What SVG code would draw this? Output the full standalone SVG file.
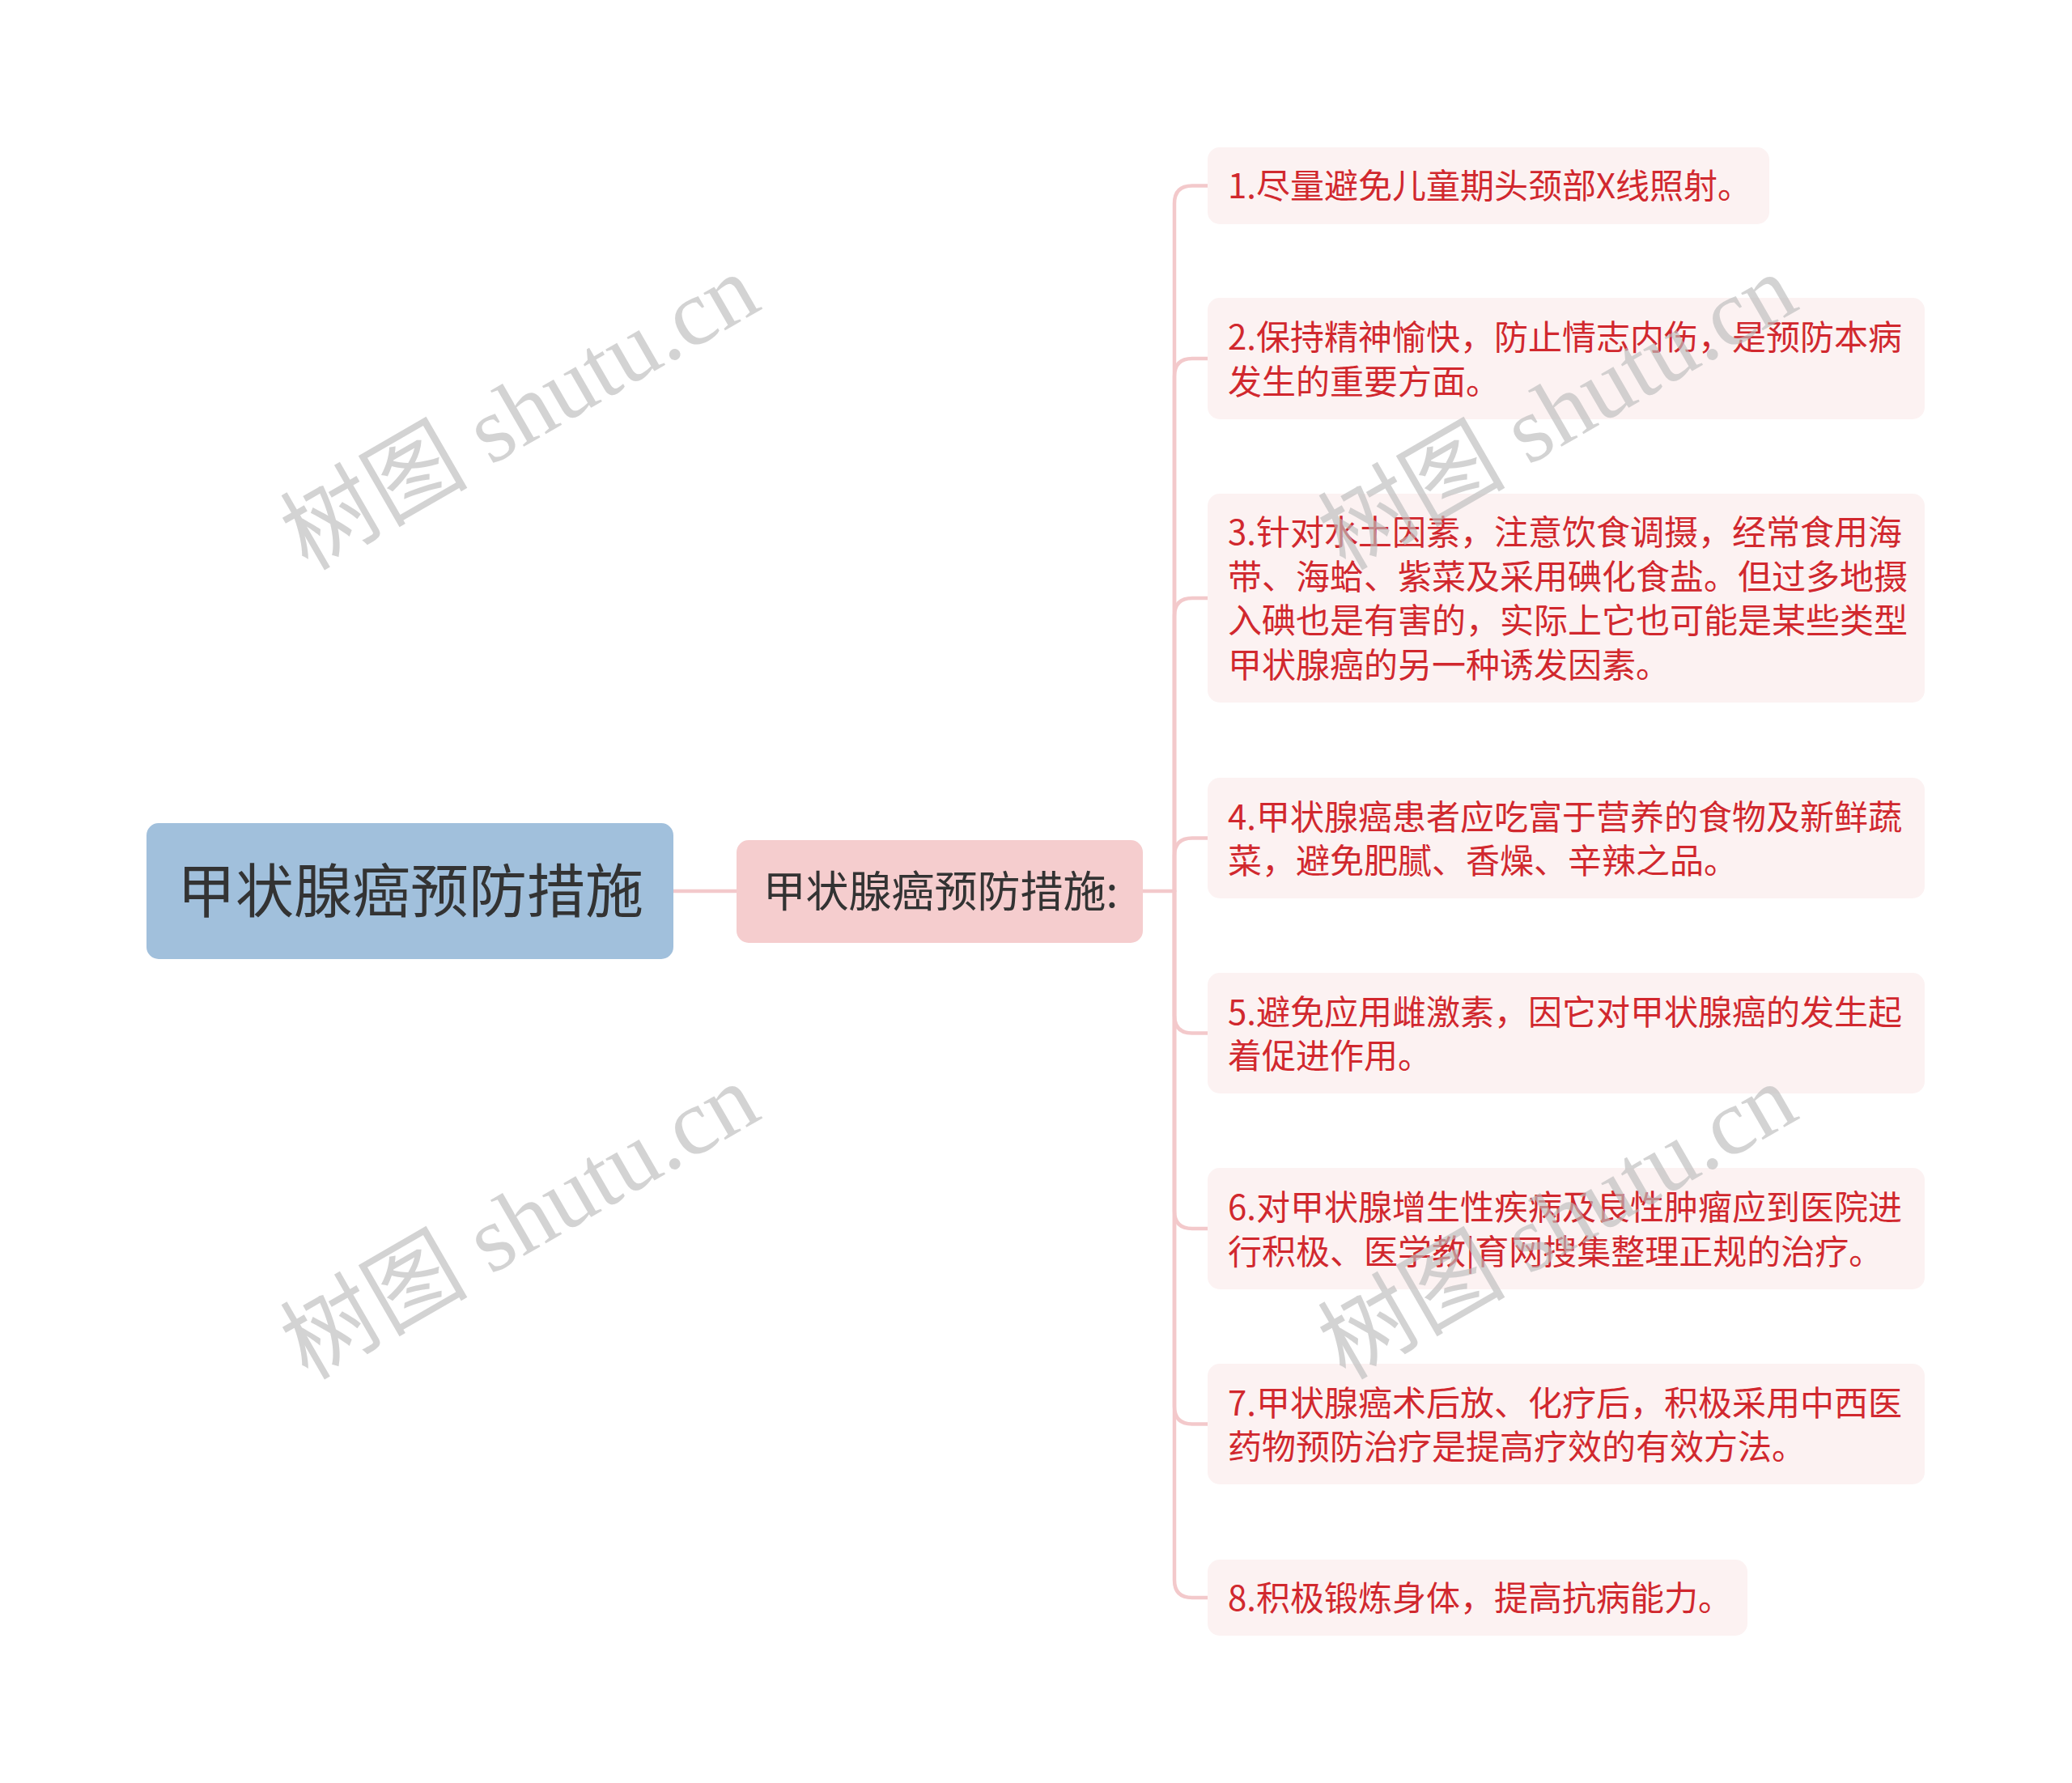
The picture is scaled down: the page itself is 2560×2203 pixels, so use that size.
<svg xmlns="http://www.w3.org/2000/svg" width="2560" height="2203" viewBox="0 0 2560 2203">
<style>
.leafbox{fill:#fcf2f2;}
.leaft{font-family:"Noto Sans CJK SC","Noto Sans",sans-serif;font-size:42px;fill:#d1282e;}
.conn{fill:none;stroke:#f3c9cb;stroke-width:4.5;stroke-linecap:round;}
.wm{font-family:"Liberation Serif","Noto Sans CJK SC",serif;font-size:116px;fill:#bdbdbd;opacity:0.65;}
</style>
<rect width="2560" height="2203" fill="#ffffff"/>
<g id="connectors">
<path class="conn" d="M832 1101 H910"/>
<path class="conn" d="M1412 1101 H1451"/>
<path class="conn" d="M1451 1101 V251.5 Q1451 229.5 1473 229.5 H1492"/>
<path class="conn" d="M1451 1101 V465 Q1451 443 1473 443 H1492"/>
<path class="conn" d="M1451 1101 V761 Q1451 739 1473 739 H1492"/>
<path class="conn" d="M1451 1101 V1057.5 Q1451 1035.5 1473 1035.5 H1492"/>
<path class="conn" d="M1451 1101 V1254.5 Q1451 1276.5 1473 1276.5 H1492"/>
<path class="conn" d="M1451 1101 V1496 Q1451 1518 1473 1518 H1492"/>
<path class="conn" d="M1451 1101 V1737.5 Q1451 1759.5 1473 1759.5 H1492"/>
<path class="conn" d="M1451 1101 V1952 Q1451 1974 1473 1974 H1492"/>
</g>
<g id="root">
<rect x="181" y="1017" width="651" height="168" rx="15" fill="#a1c0dc"/>
<text x="507" y="1127" text-anchor="middle" font-family="Noto Sans CJK SC, Noto Sans, sans-serif" font-size="72" fill="#333333">甲状腺癌预防措施</text>
</g>
<g id="mid">
<rect x="910" y="1038" width="502" height="127" rx="15" fill="#f5cdce"/>
<text x="1162" y="1121" text-anchor="middle" font-family="Noto Sans CJK SC, Noto Sans, sans-serif" font-size="53" fill="#333333">甲状腺癌预防措施:</text>
</g>
<g id="leaf1">
<rect class="leafbox" x="1492" y="182" width="694" height="95" rx="15"/>
<text class="leaft" x="1517" y="245">1.尽量避免儿童期头颈部X线照射。</text>
</g>
<g id="leaf2">
<rect class="leafbox" x="1492" y="368" width="886" height="150" rx="15"/>
<text class="leaft" x="1517" y="432">2.保持精神愉快，防止情志内伤，是预防本病</text>
<text class="leaft" x="1517" y="486.6">发生的重要方面。</text>
</g>
<g id="leaf3">
<rect class="leafbox" x="1492" y="610" width="886" height="258" rx="15"/>
<text class="leaft" x="1517" y="673">3.针对水土因素，注意饮食调摄，经常食用海</text>
<text class="leaft" x="1517" y="727.6">带、海蛤、紫菜及采用碘化食盐。但过多地摄</text>
<text class="leaft" x="1517" y="782.2">入碘也是有害的，实际上它也可能是某些类型</text>
<text class="leaft" x="1517" y="836.8">甲状腺癌的另一种诱发因素。</text>
</g>
<g id="leaf4">
<rect class="leafbox" x="1492" y="961" width="886" height="149" rx="15"/>
<text class="leaft" x="1517" y="1024.5">4.甲状腺癌患者应吃富于营养的食物及新鲜蔬</text>
<text class="leaft" x="1517" y="1079.1">菜，避免肥腻、香燥、辛辣之品。</text>
</g>
<g id="leaf5">
<rect class="leafbox" x="1492" y="1202" width="886" height="149" rx="15"/>
<text class="leaft" x="1517" y="1265.5">5.避免应用雌激素，因它对甲状腺癌的发生起</text>
<text class="leaft" x="1517" y="1320.1">着促进作用。</text>
</g>
<g id="leaf6">
<rect class="leafbox" x="1492" y="1443" width="886" height="150" rx="15"/>
<text class="leaft" x="1517" y="1507">6.对甲状腺增生性疾病及良性肿瘤应到医院进</text>
<text class="leaft" x="1517" y="1561.6">行积极、医学教|育网搜集整理正规的治疗。</text>
</g>
<g id="leaf7">
<rect class="leafbox" x="1492" y="1685" width="886" height="149" rx="15"/>
<text class="leaft" x="1517" y="1748.5">7.甲状腺癌术后放、化疗后，积极采用中西医</text>
<text class="leaft" x="1517" y="1803.1">药物预防治疗是提高疗效的有效方法。</text>
</g>
<g id="leaf8">
<rect class="leafbox" x="1492" y="1927" width="667" height="94" rx="15"/>
<text class="leaft" x="1517" y="1990">8.积极锻炼身体，提高抗病能力。</text>
</g>
<g id="watermarks">
<text class="wm" transform="translate(380 706) rotate(-30)">树图 shutu.cn</text>
<text class="wm" transform="translate(1662 706) rotate(-30)">树图 shutu.cn</text>
<text class="wm" transform="translate(380 1706) rotate(-30)">树图 shutu.cn</text>
<text class="wm" transform="translate(1662 1706) rotate(-30)">树图 shutu.cn</text>
</g>
</svg>
